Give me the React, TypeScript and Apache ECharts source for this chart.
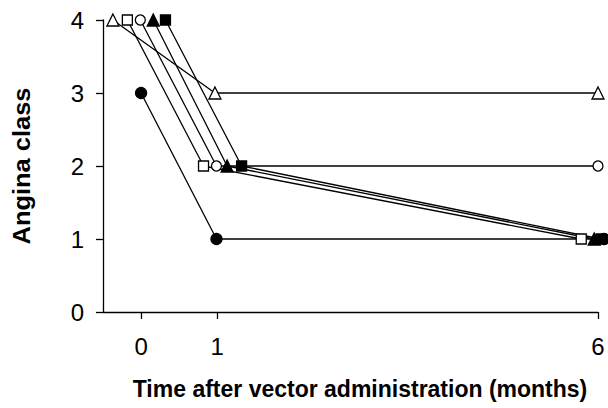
import React, { useEffect, useRef } from "react";
import * as echarts from "echarts";

// Time (months, jittered so markers don't overlap) and angina class per patient
const openTriangleX = [-0.37, 0.97, 6.0];
const openTriangleY = [4, 3, 3];
const openSquareX = [-0.18, 0.82, 5.78];
const openSquareY = [4, 2, 1];
const openCircleX = [-0.01, 0.99, 6.0];
const openCircleY = [4, 2, 2];
const filledTriangleX = [0.16, 1.13, 5.95];
const filledTriangleY = [4, 2, 1];
const filledSquareX = [0.32, 1.32, 6.04];
const filledSquareY = [4, 2, 1];
const filledCircleX = [0.0, 0.99, 6.08];
const filledCircleY = [3, 1, 1];

const xTickValues = [0, 1, 6];
const yTickValues = [0, 1, 2, 3, 4];

const xTitle = "Time after vector administration (months)";
const yTitle = "Angina class";

const FONT = "'Liberation Sans', Arial, Helvetica, sans-serif";

function pairs(xs: number[], ys: number[]) {
  return xs.map((x, i) => [x, ys[i]]);
}

function makeSeries(name: string, xs: number[], ys: number[], symbol: string, filled: boolean, size: number) {
  return {
    name,
    type: "line",
    data: pairs(xs, ys),
    symbol,
    symbolSize: size,
    showSymbol: true,
    clip: false,
    lineStyle: { color: "#000", width: 1.3 },
    itemStyle: { color: filled ? "#000" : "#fff", borderColor: "#000", borderWidth: 1.3 },
    emphasis: { disabled: true },
  };
}

export default function App() {
  const ref = useRef<HTMLDivElement>(null);
  useEffect(() => {
    if (!ref.current) return;
    const chart = echarts.init(ref.current, undefined, { renderer: "svg" });
    chart.setOption({
      animation: false,
      backgroundColor: "#fff",
      grid: { left: 103, right: 10, top: 20, bottom: 96, containLabel: false },
      xAxis: {
        type: "value",
        min: -0.5,
        max: 6,
        splitLine: { show: false },
        axisLine: { onZero: false, lineStyle: { color: "#000", width: 1.3 } },
        axisTick: { customValues: xTickValues, length: 7, lineStyle: { color: "#000", width: 1.3 } },
        axisLabel: {
          customValues: xTickValues,
          margin: 22,
          color: "#000",
          fontSize: 24,
          fontFamily: FONT,
        },
      },
      yAxis: {
        type: "value",
        min: 0,
        max: 4,
        interval: 1,
        splitLine: { show: false },
        axisLine: { show: true, onZero: false, lineStyle: { color: "#000", width: 1.3 } },
        axisTick: { show: true, length: 7, lineStyle: { color: "#000", width: 1.3 } },
        axisLabel: {
          margin: 19,
          color: "#000",
          fontSize: 24,
          fontFamily: FONT,
          formatter: (v: number) => (yTickValues.includes(v) ? String(v) : ""),
        },
      },
      graphic: [
        {
          type: "text",
          x: 360,
          y: 389,
          style: {
            text: xTitle,
            fontSize: 23,
            fontWeight: "bold",
            fontFamily: FONT,
            fill: "#000",
            align: "center",
            verticalAlign: "middle",
          },
        },
        {
          type: "text",
          x: 22,
          y: 166,
          rotation: Math.PI / 2,
          scaleX: 1.06,
          style: {
            text: yTitle,
            fontSize: 24,
            fontWeight: "bold",
            fontFamily: FONT,
            fill: "#000",
            align: "center",
            verticalAlign: "middle",
          },
        },
      ],
      series: [
        makeSeries("Patient A", openTriangleX, openTriangleY, "triangle", false, 12),
        makeSeries("Patient B", openSquareX, openSquareY, "rect", false, 10),
        makeSeries("Patient C", openCircleX, openCircleY, "circle", false, 10),
        makeSeries("Patient D", filledTriangleX, filledTriangleY, "triangle", true, 12),
        makeSeries("Patient E", filledSquareX, filledSquareY, "rect", true, 10),
        makeSeries("Patient F", filledCircleX, filledCircleY, "circle", true, 11),
      ],
    });
    return () => chart.dispose();
  }, []);
  return (
    <div
      ref={ref}
      style={{ position: "fixed", left: 0, top: 0, width: 608, height: 408 }}
    />
  );
}
